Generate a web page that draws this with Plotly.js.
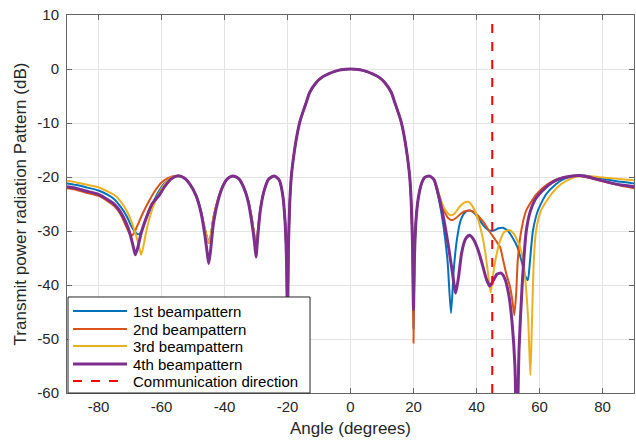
<!DOCTYPE html>
<html>
<head>
<meta charset="utf-8">
<script src="https://cdn.plot.ly/plotly-3.0.1.min.js"></script>
<style>html,body{margin:0;padding:0;background:#fff;}#chart{width:636px;height:442px;}</style>
</head>
<body>
<div id="chart"></div>
<script>
// Angles (degrees) and patterns (dB)
const beam1Angle = [-90,-87,-84,-80,-77,-75,-73,-71,-69.5,-68,-67.2,-66.3,-65,-63,-61,-59,-57,-55,
  -53,-51,-49,-47.5,-46.3,-45.5,-45,-44.4,-43.5,-42,-40.5,-39,-37.3,-35.5,-34,-32.5,-31.3,-30.5,-30,-29.5,-28.7,-27.5,-26,-24.2,-22.6,-21.6,-20.8,-20.3,-20,
  -19.7,-19.3,-18.8,-18,-17,-16,-15,-14,-13,-11,-9,-7,-5,-3,0,3,5,7,9,11,13,14,15,16,17,18,18.8,19.3,19.7,
  20,20.3,20.8,21.5,22.5,23.5,25,26.5,28,29.5,30.8,31.9,32.8,33.8,35,36.5,37.9,39.5,41,42.5,44,45.5,47,48.4,50,51.5,53,54.5,55.5,56.3,57,57.9,59.5,62.1,65.3,68,72.7,77,82,86,90];
const beam1dB = [-21.2,-21.5,-21.9,-22.5,-23.3,-24.1,-25.5,-27.3,-29.2,-30.4,-30.6,-30,-28,-25.2,-22.8,-21.1,-20.1,-19.8,
  -20.1,-21.3,-23.5,-26.3,-29.5,-31.3,-32.2,-31,-27.5,-24,-21.6,-20.3,-19.8,-20.3,-21.8,-24.3,-27.8,-31,-33.2,-30.5,-26.3,-22.7,-20.4,-19.8,-20.6,-23,-28,-36,-48,
  -33,-25,-20,-16,-12.3,-9.6,-7.8,-6.1,-4.4,-2.6,-1.5,-0.9,-0.45,-0.15,0,-0.15,-0.45,-0.9,-1.5,-2.6,-4.4,-6.1,-7.8,-9.6,-12.3,-16,-20,-25,-33,
  -48,-35,-28,-24,-21.3,-20.1,-19.8,-20.5,-24,-29,-35.5,-45.2,-37,-31.5,-28,-26.5,-26.2,-26.8,-28,-29.2,-29.9,-29.9,-29.5,-29.4,-30,-31.3,-33,-36,-38.3,-39.1,-35.4,-30,-26.2,-23.2,-21.3,-20.3,-19.7,-20,-20.5,-20.9,-21.2];

const beam2Angle = [-90,-87,-84,-80,-77,-75,-73,-71.5,-70.3,-69.6,-68.8,-67.5,-66,-64,-62,-60,-58,-55.5,
  -53,-51,-49,-47.5,-46.3,-45.5,-45,-44.4,-43.5,-42,-40.5,-39,-37.3,-35.5,-34,-32.5,-31.3,-30.5,-30,-29.5,-28.7,-27.5,-26,-24.2,-22.6,-21.6,-20.8,-20.3,-20,
  -19.7,-19.3,-18.8,-18,-17,-16,-15,-14,-13,-11,-9,-7,-5,-3,0,3,5,7,9,11,13,14,15,16,17,18,18.8,19.3,19.7,
  20,20.3,20.8,21.5,22.5,23.5,25,26.5,28,29.5,31,32.2,33.5,35,36.5,37.9,39.5,41,42.5,44,45,46.3,47.5,48.5,49.4,50.5,51.3,52,52.6,53.1,54.2,55.8,59,62.6,66,71.6,76,80,85,90];
const beam2dB = [-22.1,-22.4,-22.9,-23.5,-24.5,-25.4,-26.9,-28.8,-30.3,-30.9,-30.5,-28.8,-26.8,-24.5,-22.5,-21,-20.2,-19.8,
  -20.1,-21.3,-23.5,-26.3,-29.5,-31.3,-32.2,-31,-27.5,-24,-21.6,-20.3,-19.8,-20.3,-21.8,-24.3,-27.8,-31,-33.2,-30.5,-26.3,-22.7,-20.4,-19.8,-20.6,-23,-28,-36,-48,
  -33,-25,-20,-16,-12.3,-9.6,-7.8,-6.1,-4.4,-2.6,-1.5,-0.9,-0.45,-0.15,0,-0.15,-0.45,-0.9,-1.5,-2.6,-4.4,-6.1,-7.8,-9.6,-12.3,-16,-20,-25,-33,
  -50.7,-35,-28,-24,-21.3,-20.1,-19.8,-20.5,-23.5,-26,-27.6,-28,-27.6,-26.8,-26.3,-26.2,-26.6,-27.5,-28.6,-30,-30.8,-31.9,-33,-35.5,-37.8,-40,-42.5,-45.6,-41.5,-35.4,-30,-26.2,-23.2,-21.3,-20.3,-19.7,-20.2,-20.8,-21.5,-22.1];

const beam3Angle = [-90,-87,-84,-80,-77,-75,-73,-71,-69.5,-68,-67,-66.5,-65.8,-65,-63.5,-62,-60,-58,-56,-54.5,
  -53,-51,-49,-47.5,-46.3,-45.5,-45,-44.4,-43.5,-42,-40.5,-39,-37.3,-35.5,-34,-32.5,-31.3,-30.5,-30,-29.5,-28.7,-27.5,-26,-24.2,-22.6,-21.6,-20.8,-20.3,-20,
  -19.7,-19.3,-18.8,-18,-17,-16,-15,-14,-13,-11,-9,-7,-5,-3,0,3,5,7,9,11,13,14,15,16,17,18,18.8,19.3,19.7,
  20,20.3,20.8,21.5,22.5,23.5,25,26.5,28,29.5,31,31.8,33,34.5,36,37.3,38.5,40,41.5,42.8,43.8,44.5,45.3,46.3,47.5,48.8,50.5,51.8,53,53.8,54.8,55.4,56.4,57.1,57.6,58.2,58.9,60.5,63.7,66.9,70,72.7,77,82,86,90];
const beam3dB = [-20.7,-21,-21.4,-21.9,-22.7,-23.3,-24.5,-26.3,-28.3,-31,-33.2,-34.4,-33,-30.5,-27,-24.5,-22.2,-20.6,-19.9,-19.8,
  -20.1,-21.3,-23.5,-26.3,-29.5,-31.3,-32.2,-31,-27.5,-24,-21.6,-20.3,-19.8,-20.3,-21.8,-24.3,-27.8,-31,-33.2,-30.5,-26.3,-22.7,-20.4,-19.8,-20.6,-23,-28,-36,-48,
  -33,-25,-20,-16,-12.3,-9.6,-7.8,-6.1,-4.4,-2.6,-1.5,-0.9,-0.45,-0.15,0,-0.15,-0.45,-0.9,-1.5,-2.6,-4.4,-6.1,-7.8,-9.6,-12.3,-16,-20,-25,-33,
  -43,-34,-28,-24,-21.3,-20.1,-19.8,-20.4,-23,-25.5,-26.8,-27.1,-26.8,-25.6,-24.8,-24.6,-25.2,-27,-30,-34,-38.5,-41.4,-38,-34.5,-31.8,-30.2,-29.8,-30.5,-31.8,-32.9,-35.5,-38.4,-46.3,-56.7,-47,-35.4,-30,-26.2,-23.2,-21.3,-20.3,-19.8,-19.9,-20.2,-20.4,-20.6];

const beam4Angle = [-90,-87,-84,-80,-77,-75,-73,-71,-70,-69,-68.3,-67.5,-66.5,-65,-63,-61,-59,-57,-55,
  -53,-51,-49,-47.5,-46.3,-45.5,-45,-44.4,-43.5,-42,-40.5,-39,-37.3,-35.5,-34,-32.5,-31.3,-30.5,-30,-29.5,-28.7,-27.5,-26,-24.2,-22.6,-21.6,-20.8,-20.3,-20,
  -19.7,-19.3,-18.8,-18,-17,-16,-15,-14,-13,-11,-9,-7,-5,-3,0,3,5,7,9,11,13,14,15,16,17,18,18.8,19.3,19.7,
  20,20.3,20.8,21.5,22.5,23.5,25,26.5,28,29.5,31,32.3,33.4,34.3,35.3,36.5,37.7,39,40.5,42,43.2,44.2,45.2,46.5,47.8,49,50.3,51.3,52.2,52.8,53.5,54.5,55.8,57,58.5,61,64,67,70,72.2,75,78,82,86,90];
const beam4dB = [-21.8,-22.1,-22.6,-23.2,-24.2,-25,-26.5,-28.8,-30.5,-32.8,-34.4,-33,-30.5,-27.8,-25,-23.6,-21.8,-20.4,-19.8,
  -20.1,-21.3,-23.5,-26.5,-30.5,-34,-36,-33.5,-28.5,-24.3,-21.7,-20.3,-19.8,-20.3,-21.8,-24.5,-28.5,-32,-34.8,-31.5,-26.5,-22.7,-20.4,-19.8,-20.6,-23,-28,-36,-48,
  -33,-25,-20,-16,-12.3,-9.6,-7.8,-6.1,-4.4,-2.6,-1.5,-0.9,-0.45,-0.15,0,-0.15,-0.45,-0.9,-1.5,-2.6,-4.4,-6.1,-7.8,-9.6,-12.3,-16,-20,-25,-33,
  -44.6,-35,-28,-24,-21.3,-20.1,-19.8,-20.5,-23.5,-27.5,-32.5,-37.5,-41.5,-38.5,-34,-31.5,-30.8,-31.5,-33.5,-36.5,-39,-40.2,-39.3,-38,-37.8,-38.8,-42,-47,-55,-70,-52,-40,-30,-26.5,-24.3,-22.5,-21,-20.2,-19.85,-19.7,-19.9,-20.4,-21,-21.5,-21.8];

const commAngle = [45, 45];
const commdB = [-60, 10];

const seriesNames = ['1st beampattern','2nd beampattern','3rd beampattern','4th beampattern','Communication direction'];
const xTicks = [-80,-60,-40,-20,0,20,40,60,80];
const yTicks = [-60,-50,-40,-30,-20,-10,0,10];

const colors = ['#0072BD','#D95319','#EDB120','#7E2F8E','#FF0000'];
const widths = [2,2,2,3,2];
const dashes = ['solid','solid','solid','solid','dash'];
const xs = [beam1Angle, beam2Angle, beam3Angle, beam4Angle];
const ys = [beam1dB, beam2dB, beam3dB, beam4dB];

const traces = xs.map((x, i) => ({
  x: x, y: ys[i], type: 'scatter', mode: 'lines', name: seriesNames[i],
  line: {color: colors[i], width: widths[i], shape: 'spline', smoothing: 0.6}
}));
traces.push({
  x: commAngle, y: commdB, type: 'scatter', mode: 'lines', name: seriesNames[4],
  line: {color: colors[4], width: widths[4], dash: 'dash'}
});

const font = 'Liberation Sans, Arial, Helvetica, sans-serif';
const axisCommon = {
  showline: true, linecolor: '#666', linewidth: 1, mirror: 'ticks',
  ticks: 'inside', ticklen: 5, tickcolor: '#666',
  showgrid: true, gridcolor: '#e3e3e3', gridwidth: 1,
  zeroline: false, tickfont: {family: font, size: 15, color: '#262626'}
};

// Legend box drawn in paper coordinates (MATLAB-style legend)
const legBox = {x0: 0.0018, x1: 0.4286, y0: 0, y1: 0.254};
const legRowY = [0.2169, 0.1693, 0.1243, 0.0767, 0.0317];
const legLineX = [0.0106, 0.1058];
const legTextX = 0.1129;

const shapes = [{
  type: 'rect', xref: 'paper', yref: 'paper', layer: 'above',
  x0: legBox.x0, x1: legBox.x1, y0: legBox.y0, y1: legBox.y1,
  fillcolor: '#fff', line: {color: '#262626', width: 1}
}];
const annotations = [];
seriesNames.forEach((name, i) => {
  shapes.push({
    type: 'line', xref: 'paper', yref: 'paper', layer: 'above',
    x0: legLineX[0], x1: legLineX[1], y0: legRowY[i], y1: legRowY[i],
    line: {color: colors[i], width: widths[i], dash: dashes[i]}
  });
  annotations.push({
    xref: 'paper', yref: 'paper', x: legTextX, y: legRowY[i],
    xanchor: 'left', yanchor: 'middle', showarrow: false, text: name,
    font: {family: font, size: 15, color: '#000'}
  });
});

const layout = {
  width: 636, height: 442,
  margin: {l: 67, r: 2, t: 15, b: 49},
  paper_bgcolor: '#fff', plot_bgcolor: '#fff',
  showlegend: false,
  xaxis: Object.assign({}, axisCommon, {
    range: [-90, 90], tickvals: xTicks, ticktext: xTicks.map(String),
    title: {text: 'Angle (degrees)', font: {family: font, size: 17, color: '#262626'}, standoff: 8}
  }),
  yaxis: Object.assign({}, axisCommon, {
    range: [-60, 10], tickvals: yTicks, ticktext: yTicks.map(String),
    ticklabelstandoff: 4,
    title: {text: 'Transmit power radiation Pattern (dB)', font: {family: font, size: 17, color: '#262626'}, standoff: 6}
  }),
  shapes: shapes,
  annotations: annotations
};

Plotly.newPlot('chart', traces, layout, {displayModeBar: false, staticPlot: true});
</script>
</body>
</html>
